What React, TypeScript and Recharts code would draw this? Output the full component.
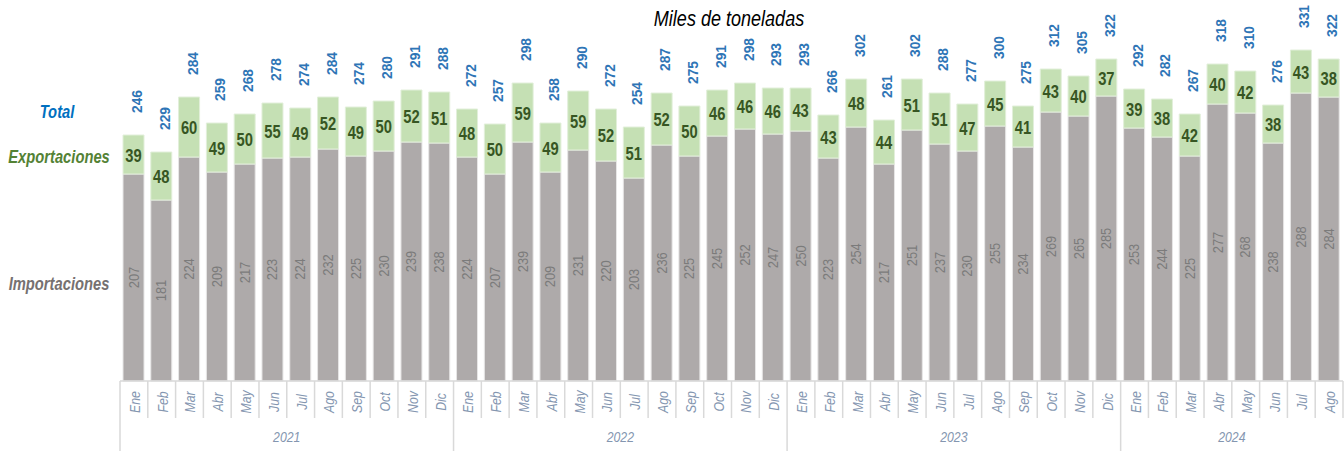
import { BarChart, Bar, XAxis, YAxis, LabelList } from "recharts";

const months = ["Ene", "Feb", "Mar", "Abr", "May", "Jun", "Jul", "Ago", "Sep", "Oct", "Nov", "Dic"];
const years = ["2021", "2022", "2023", "2024"];

const importaciones = [
  207, 181, 224, 209, 217, 223, 224, 232, 225, 230, 239, 238,
  224, 207, 239, 209, 231, 220, 203, 236, 225, 245, 252, 247,
  250, 223, 254, 217, 251, 237, 230, 255, 234, 269, 265, 285,
  253, 244, 225, 277, 268, 238, 288, 284,
];
const exportaciones = [
  39, 48, 60, 49, 50, 55, 49, 52, 49, 50, 52, 51,
  48, 50, 59, 49, 59, 52, 51, 52, 50, 46, 46, 46,
  43, 43, 48, 44, 51, 51, 47, 45, 41, 43, 40, 37,
  39, 38, 42, 40, 42, 38, 43, 38,
];
const totales = [
  246, 229, 284, 259, 268, 278, 274, 284, 274, 280, 291, 288,
  272, 257, 298, 258, 290, 272, 254, 287, 275, 291, 298, 293,
  293, 266, 302, 261, 302, 288, 277, 300, 275, 312, 305, 322,
  292, 282, 267, 318, 310, 276, 331, 322,
];

const data = importaciones.map((imp, i) => ({
  mes: months[i % 12],
  anio: years[Math.floor(i / 12)],
  imp,
  exp: exportaciones[i],
  total: totales[i],
}));

const W = 1344;
const H = 451;
const LEFT = 120;
const RIGHT = 1;
const TOP = 21;
const AXIS_H = 70;
const BASE = H - AXIS_H;
const band = (W - LEFT - RIGHT) / data.length;

const FONT = "'Liberation Sans', Arial, sans-serif";
const NARROW = 0.82;

// condensed text (Arial Narrow look) via horizontal scaling
const NText = ({ x, y, rotate = 0, sx = NARROW, children, ...rest }: any) => (
  <text
    x={0}
    y={0}
    transform={`translate(${x},${y}) rotate(${rotate}) scale(${sx},1)`}
    fontFamily={FONT}
    {...rest}
  >
    {children}
  </text>
);

const MonthTick = (props: any) => {
  const { x, index, payload } = props;
  const d = data[index];
  const left = x - band / 2;
  const isYearStart = index % 12 === 0;
  const count = data.filter((r) => r.anio === d.anio).length;
  return (
    <g>
      <line x1={left} y1={BASE} x2={left} y2={isYearStart ? H : BASE + 37} stroke="#d9d9d9" strokeWidth={1.5} />
      {index === data.length - 1 && (
        <line x1={left + band} y1={BASE} x2={left + band} y2={BASE + 37} stroke="#d9d9d9" strokeWidth={1.5} />
      )}
      <NText
        x={x + 6}
        y={BASE + 21}
        rotate={-90}
        textAnchor="middle"
        fontStyle="italic"
        fontSize={15}
        fill="#8496b0"
      >
        {payload.value}
      </NText>
      {isYearStart && (
        <NText
          x={left + (count * band) / 2}
          y={BASE + 61}
          textAnchor="middle"
          fontStyle="italic"
          fontSize={15}
          fill="#8496b0"
        >
          {d.anio}
        </NText>
      )}
    </g>
  );
};

const TotalLabel = (props: any) => {
  const { x, y, width, value } = props;
  return (
    <NText
      x={x + width / 2 + 8.5}
      y={y - 22}
      rotate={-90}
      sx={0.92}
      textAnchor="start"
      fontWeight="bold"
      fontSize={15}
      fill="#2e75b6"
    >
      {value}
    </NText>
  );
};

const ExpLabel = (props: any) => {
  const { x, y, width, height, value } = props;
  return (
    <NText
      x={x + width / 2}
      y={y + height / 2 + 7}
      textAnchor="middle"
      fontWeight="bold"
      fontSize={18}
      fill="#375623"
    >
      {value}
    </NText>
  );
};

const ImpLabel = (props: any) => {
  const { x, y, width, height, value } = props;
  return (
    <NText
      x={x + width / 2 + 5}
      y={y + height / 2}
      rotate={-90}
      sx={0.92}
      textAnchor="middle"
      fontSize={14}
      fill="#7b7b7b"
    >
      {value}
    </NText>
  );
};

export default function App() {
  return (
    <div style={{ position: "fixed", left: 0, top: 0, width: W, height: H, background: "#fff" }}>
      <BarChart
        width={W}
        height={H}
        data={data}
        margin={{ top: TOP, right: RIGHT, left: LEFT, bottom: 0 }}
        barSize={21}
      >
        <XAxis
          dataKey="mes"
          height={AXIS_H}
          interval={0}
          tickLine={false}
          axisLine={{ stroke: "#d9d9d9", strokeWidth: 1.5 }}
          tick={<MonthTick />}
        />
        <YAxis hide domain={[0, 360]} width={0} />
        <Bar dataKey="imp" stackId="a" fill="#aeaaaa" stroke="#e7e6e6" strokeWidth={1} isAnimationActive={false}>
          <LabelList dataKey="imp" content={<ImpLabel />} />
        </Bar>
        <Bar dataKey="exp" stackId="a" fill="#c5e0b4" stroke="#e2efda" strokeWidth={1} isAnimationActive={false}>
          <LabelList dataKey="exp" content={<ExpLabel />} />
          <LabelList dataKey="total" content={<TotalLabel />} />
        </Bar>
        <NText x={729} y={26} textAnchor="middle" fontStyle="italic" fontSize={22} fill="#000">
          Miles de toneladas
        </NText>
        <NText x={57} y={118} textAnchor="middle" fontStyle="italic" fontWeight="bold" fontSize={18} fill="#0070c0">
          Total
        </NText>
        <NText x={59} y={163} textAnchor="middle" fontStyle="italic" fontWeight="bold" fontSize={18} fill="#548235">
          Exportaciones
        </NText>
        <NText x={59} y={290} textAnchor="middle" fontStyle="italic" fontWeight="bold" fontSize={18} fill="#767171">
          Importaciones
        </NText>
      </BarChart>
    </div>
  );
}
